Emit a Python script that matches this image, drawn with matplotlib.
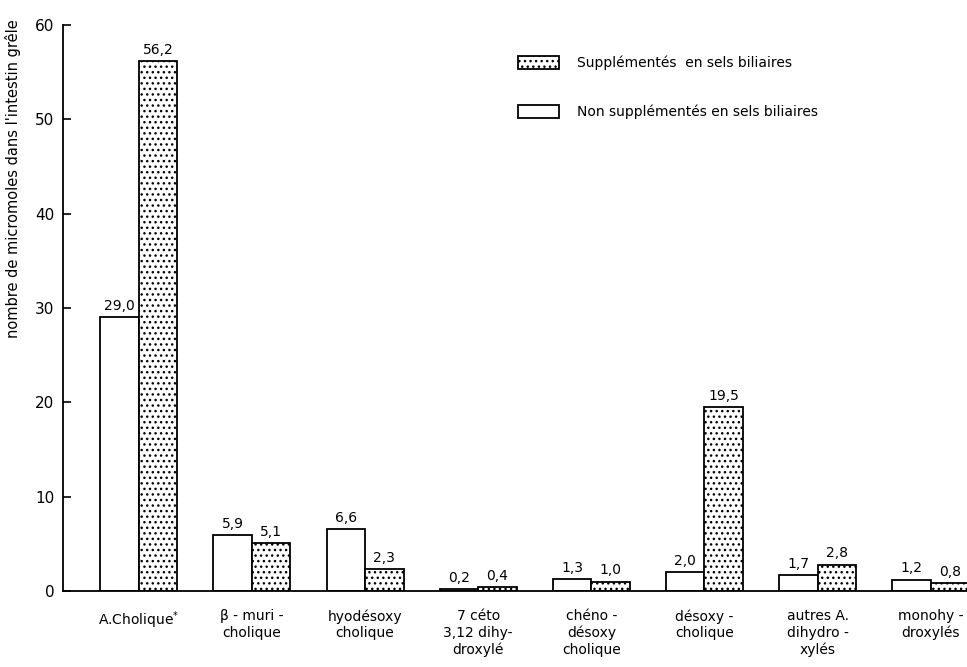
import numpy as np
import matplotlib
matplotlib.use("Agg")
import matplotlib.pyplot as plt

plt.rcParams['font.family'] = ['DejaVu Sans']
plt.rcParams['hatch.linewidth'] = 1.0

# data
categories = ["A.Cholique$^{*}$", "β - muri -\ncholique", "hyodésoxy\ncholique",
              "7 céto\n3,12 dihy-\ndroxylé", "chéno -\ndésoxy\ncholique",
              "désoxy -\ncholique", "autres A.\ndihydro -\nxylés", "monohy -\ndroxylés"]
non_supp = [29.0, 5.9, 6.6, 0.2, 1.3, 2.0, 1.7, 1.2]
supp = [56.2, 5.1, 2.3, 0.4, 1.0, 19.5, 2.8, 0.8]
non_labels = ["29,0", "5,9", "6,6", "0,2", "1,3", "2,0", "1,7", "1,2"]
supp_labels = ["56,2", "5,1", "2,3", "0,4", "1,0", "19,5", "2,8", "0,8"]
yticks = [0, 10, 20, 30, 40, 50, 60]

fig = plt.figure(figsize=(9.67, 6.67), dpi=100)
ax = fig.add_axes([0.0651, 0.114, 0.9349, 0.8485])

x = np.arange(len(categories))
w = 0.34
b1 = ax.bar(x - w / 2, non_supp, w, color='white', edgecolor='black', linewidth=1.3,
            label="Non supplémentés en sels biliaires")
b2 = ax.bar(x + w / 2, supp, w, color='white', edgecolor='black', linewidth=1.3,
            hatch='...', label="Supplémentés  en sels biliaires")

for xi, v, s in zip(x, non_supp, non_labels):
    ax.annotate(s, (xi - w / 2, v), xytext=(0, 3), textcoords='offset points',
                ha='center', va='bottom', fontsize=10)
for xi, v, s in zip(x, supp, supp_labels):
    ax.annotate(s, (xi + w / 2, v), xytext=(0, 3), textcoords='offset points',
                ha='center', va='bottom', fontsize=10)

ax.set_xlim(-0.67, 7.32)
ax.set_ylim(0, 60)
ax.set_yticks(yticks)
ax.tick_params(axis='y', direction='in', length=6, width=1.2, labelsize=11, pad=6)
ax.set_xticks(x)
ax.set_xticklabels(categories, fontsize=10, va='top', linespacing=1.25)
ax.tick_params(axis='x', length=0, pad=13)
ax.spines['top'].set_visible(False)
ax.spines['right'].set_visible(False)
ax.spines['left'].set_linewidth(1.3)
ax.spines['bottom'].set_linewidth(1.3)

ax.set_ylabel("nombre de micromoles dans l'intestin grêle", fontsize=10.5)
ax.yaxis.set_label_coords(-0.046, 0.728)

ax.legend([b2, b1], ["Supplémentés  en sels biliaires", "Non supplémentés en sels biliaires"],
          loc='upper left', bbox_to_anchor=(0.49, 0.968), frameon=False, fontsize=10,
          handlelength=2.9, handleheight=1.0, handletextpad=1.3, labelspacing=2.5)

fig.savefig("out.png", dpi=100)
